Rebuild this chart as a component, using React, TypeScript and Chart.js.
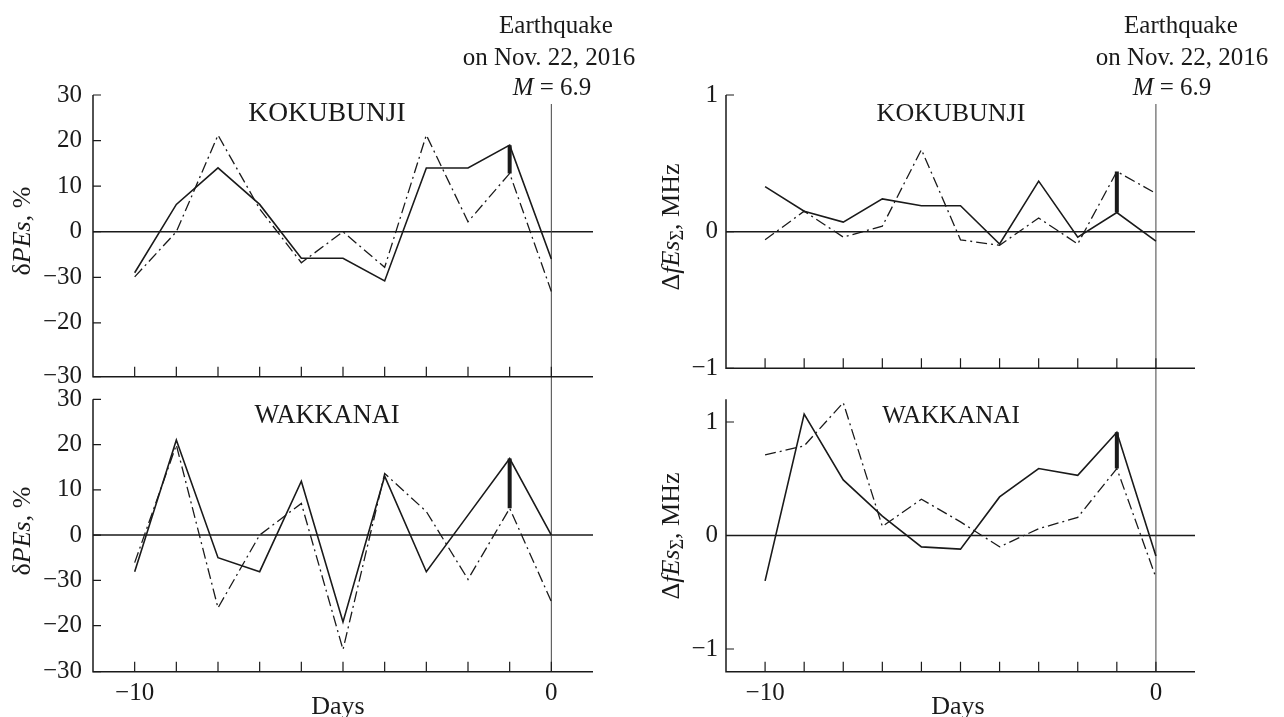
import React, { useEffect, useRef } from "react";
import { Chart, registerables } from "chart.js";

Chart.register(...registerables);

// ---------- data ----------
const DAYS = [-10, -9, -8, -7, -6, -5, -4, -3, -2, -1, 0];
const EVENT_DAY = 0;
const MARK_DAY = -1;

const KOK_PES_SOLID = [-9, 6, 14, 6, -5.8, -5.8, -10.8, 14, 14, 19, -6];
const KOK_PES_DASH = [-9.9, 0, 21.2, 5, -6.8, 0, -7.8, 21.2, 2.2, 12.8, -13.1];
const WAK_PES_SOLID = [-8.1, 21, -5, -8.1, 11.9, -19.2, 13, -8.1, 4.4, 16.9, 0];
const WAK_PES_DASH = [-6.1, 19.9, -16.1, 0, 7, -25.3, 13.6, 5.2, -9.8, 5.9, -14.7];
const KOK_FES_SOLID = [0.33, 0.15, 0.07, 0.24, 0.19, 0.19, -0.09, 0.37, -0.04, 0.14, -0.07];
const KOK_FES_DASH = [-0.06, 0.15, -0.04, 0.04, 0.6, -0.06, -0.1, 0.1, -0.09, 0.44, 0.28];
const WAK_FES_SOLID = [-0.4, 1.07, 0.49, 0.17, -0.1, -0.12, 0.34, 0.59, 0.53, 0.91, -0.18];
const WAK_FES_DASH = [0.71, 0.79, 1.17, 0.08, 0.32, 0.12, -0.1, 0.06, 0.16, 0.59, -0.37];

const PES_TICKS = [30, 20, 10, 0, -10, -20, -30];
const PES_TICK_LABELS = ["30", "20", "10", "0", "\u221230", "\u221220", "\u221230"];
const FES_TICKS = [1, 0, -1];
const FES_TICK_LABELS = ["1", "0", "\u22121"];
const X_LABELED = [-10, 0];
const X_LABELS = ["\u221210", "0"];

const STATIONS = ["KOKUBUNJI", "WAKKANAI"];
const EVENT_LINES = ["Earthquake", "on Nov. 22, 2016"];

const FONT = "'Liberation Serif', 'Times New Roman', serif";
const INK = "#1a1a1a";

type PanelCfg = {
  left: number; top: number; w: number; h: number;
  solid: number[]; dash: number[];
  yMin: number; yMax: number; yTicks: number[]; yLabels: string[]; lastAtMin: boolean;
  padTop: number; padRight: number; yW: number; xH: number;
  showX: boolean; vTop: number; toAxis: boolean;
};

// tick values top-to-bottom; for the δPEs panels the lowest label sits on the axis
const tickVals = (cfg: PanelCfg) =>
  cfg.yTicks.map((v, i) => (cfg.lastAtMin && i === cfg.yTicks.length - 1 ? cfg.yMin : v));

// ---------- plugin ----------
const refPlugin = {
  id: "ref",
  beforeDatasetsDraw(chart: any, _a: any, opts: any) {
    const { ctx, chartArea: a, scales } = chart;
    const x = scales.x, y = scales.y;
    ctx.save();
    const y0 = y.getPixelForValue(0);
    ctx.strokeStyle = INK;
    ctx.lineWidth = 1.5;
    ctx.beginPath();
    ctx.moveTo(a.left, y0);
    ctx.lineTo(a.right, y0);
    ctx.stroke();
    const xe = x.getPixelForValue(EVENT_DAY);
    ctx.lineWidth = 1;
    ctx.strokeStyle = "#444";
    ctx.beginPath();
    ctx.moveTo(xe, opts.vTop);
    ctx.lineTo(xe, opts.toAxis ? a.bottom : chart.height);
    ctx.stroke();
    ctx.restore();
  },
  afterDraw(chart: any, _a: any, opts: any) {
    const { ctx, chartArea: a, scales } = chart;
    const x = scales.x, y = scales.y;
    ctx.save();
    ctx.strokeStyle = INK;
    ctx.lineWidth = 1.5;
    ctx.beginPath();
    ctx.moveTo(a.left, a.top);
    ctx.lineTo(a.left, a.bottom);
    ctx.lineTo(a.right, a.bottom);
    ctx.stroke();
    ctx.lineWidth = 1.2;
    ctx.beginPath();
    DAYS.forEach((d) => {
      const px = x.getPixelForValue(d);
      ctx.moveTo(px, a.bottom);
      ctx.lineTo(px, a.bottom - 10);
    });
    (opts.yTicks as number[]).forEach((v) => {
      const py = y.getPixelForValue(v);
      ctx.moveTo(a.left, py);
      ctx.lineTo(a.left + 8, py);
    });
    ctx.stroke();
    ctx.restore();
  },
};

function Panel({ cfg }: { cfg: PanelCfg }) {
  const ref = useRef<HTMLCanvasElement | null>(null);
  useEffect(() => {
    const canvas = ref.current!;
    const mi = DAYS.indexOf(MARK_DAY);
    const tv = tickVals(cfg);
    const chart = new Chart(canvas, {
      type: "line",
      data: {
        datasets: [
          {
            data: DAYS.map((d, i) => ({ x: d, y: cfg.solid[i] })),
            borderColor: INK, borderWidth: 1.6, pointRadius: 0, tension: 0,
          },
          {
            data: DAYS.map((d, i) => ({ x: d, y: cfg.dash[i] })),
            borderColor: INK, borderWidth: 1.3, borderDash: [11, 4, 2, 4], pointRadius: 0, tension: 0,
          },
          {
            data: [{ x: MARK_DAY, y: cfg.solid[mi] }, { x: MARK_DAY, y: cfg.dash[mi] }],
            borderColor: INK, borderWidth: 4, pointRadius: 0,
          },
        ],
      } as any,
      options: {
        animation: false,
        responsive: false,
        maintainAspectRatio: false,
        layout: { padding: { top: cfg.padTop, right: cfg.padRight, left: 0, bottom: 0 } },
        plugins: {
          legend: { display: false },
          tooltip: { enabled: false },
          ref: { vTop: cfg.vTop, toAxis: cfg.toAxis, yTicks: tv },
        } as any,
        scales: {
          x: {
            type: "linear", min: -11, max: 1,
            afterBuildTicks: (s: any) => { s.ticks = DAYS.map((v) => ({ value: v })); },
            afterFit: (s: any) => { s.height = cfg.xH; s.paddingLeft = 0; s.paddingRight = 0; },
            grid: { display: false, drawTicks: false },
            border: { display: false },
            ticks: {
              display: cfg.showX, autoSkip: false, maxRotation: 0, padding: 7, color: INK,
              font: { family: FONT, size: 25 },
              callback: (v: any) => { const k = X_LABELED.indexOf(Number(v)); return k >= 0 ? X_LABELS[k] : ""; },
            },
          },
          y: {
            type: "linear", min: cfg.yMin, max: cfg.yMax,
            afterBuildTicks: (s: any) => { s.ticks = tv.map((v) => ({ value: v })).reverse(); },
            afterFit: (s: any) => { s.width = cfg.yW; s.paddingTop = 0; s.paddingBottom = 0; },
            grid: { display: false, drawTicks: false },
            border: { display: false },
            ticks: {
              padding: cfg.yW > 90 ? 11 : 8, color: INK,
              font: { family: FONT, size: 25 },
              callback: (_v: any, i: number, ticks: any[]) => cfg.yLabels[ticks.length - 1 - i],
            },
          },
        },
      } as any,
      plugins: [refPlugin],
    });
    return () => chart.destroy();
  }, []);
  return (
    <canvas
      ref={ref}
      width={cfg.w}
      height={cfg.h}
      style={{ position: "absolute", left: cfg.left, top: cfg.top, width: cfg.w, height: cfg.h }}
    />
  );
}

const txt = (x: number, y: number, size: number, extra: any = {}) => ({
  position: "absolute" as const, left: x, top: y, transform: "translate(-50%,-50%)",
  fontFamily: FONT, fontSize: size, lineHeight: 1, whiteSpace: "nowrap" as const, color: INK, ...extra,
});

export default function App() {
  const panels: PanelCfg[] = [
    { left: 0, top: 0, w: 640, h: 388, solid: KOK_PES_SOLID, dash: KOK_PES_DASH, yMin: -31.8, yMax: 30,
      yTicks: PES_TICKS, yLabels: PES_TICK_LABELS, lastAtMin: true, padTop: 95, padRight: 47, yW: 93, xH: 11.3,
      showX: false, vTop: 104, toAxis: false },
    { left: 0, top: 388, w: 640, h: 329, solid: WAK_PES_SOLID, dash: WAK_PES_DASH, yMin: -30.2, yMax: 30,
      yTicks: PES_TICKS, yLabels: PES_TICK_LABELS, lastAtMin: true, padTop: 11.3, padRight: 47, yW: 93, xH: 45.3,
      showX: true, vTop: 0, toAxis: true },
    { left: 640, top: 0, w: 644, h: 388, solid: KOK_FES_SOLID, dash: KOK_FES_DASH, yMin: -1, yMax: 1,
      yTicks: FES_TICKS, yLabels: FES_TICK_LABELS, lastAtMin: false, padTop: 95, padRight: 89, yW: 86, xH: 19.7,
      showX: false, vTop: 104, toAxis: false },
    { left: 640, top: 388, w: 644, h: 329, solid: WAK_FES_SOLID, dash: WAK_FES_DASH, yMin: -1.2, yMax: 1.2,
      yTicks: FES_TICKS, yLabels: FES_TICK_LABELS, lastAtMin: false, padTop: 11.3, padRight: 89, yW: 86, xH: 45.3,
      showX: true, vTop: 0, toAxis: true },
  ];
  const pesTitle = (<span>δ<i>PEs</i>, %</span>);
  const fesTitle = (<span>Δ<i>fEs</i><sub style={{ fontSize: "0.7em", verticalAlign: "-0.25em" }}>Σ</sub>, MHz</span>);
  return (
    <div style={{ position: "absolute", left: 0, top: 0, width: 1284, height: 717, background: "#fff", overflow: "hidden" }}>
      {panels.map((p, i) => <Panel key={i} cfg={p} />)}
      <div style={txt(556, 24, 25)}>{EVENT_LINES[0]}</div>
      <div style={txt(549, 56, 25)}>{EVENT_LINES[1]}</div>
      <div style={txt(552, 86, 25)}><i>M</i> = 6.9</div>
      <div style={txt(1181, 24, 25)}>{EVENT_LINES[0]}</div>
      <div style={txt(1182, 56, 25)}>{EVENT_LINES[1]}</div>
      <div style={txt(1172, 86, 25)}><i>M</i> = 6.9</div>
      <div style={txt(327, 112, 27.5)}>{STATIONS[0]}</div>
      <div style={txt(951, 113, 26)}>{STATIONS[0]}</div>
      <div style={txt(327, 414, 26.4)}>{STATIONS[1]}</div>
      <div style={txt(951, 414, 25)}>{STATIONS[1]}</div>
      <div style={txt(22, 231, 26, { transform: "translate(-50%,-50%) rotate(-90deg)" })}>{pesTitle}</div>
      <div style={txt(22, 531, 26, { transform: "translate(-50%,-50%) rotate(-90deg)" })}>{pesTitle}</div>
      <div style={txt(672, 227, 26, { transform: "translate(-50%,-50%) rotate(-90deg)" })}>{fesTitle}</div>
      <div style={txt(672, 536, 26, { transform: "translate(-50%,-50%) rotate(-90deg)" })}>{fesTitle}</div>
      <div style={txt(338, 706, 26)}>Days</div>
      <div style={txt(958, 706, 26)}>Days</div>
    </div>
  );
}
